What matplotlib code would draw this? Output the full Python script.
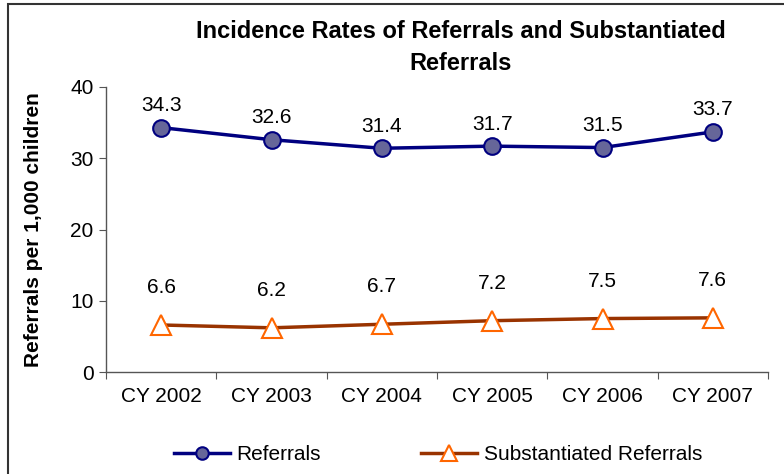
import matplotlib
matplotlib.use("Agg")
import matplotlib.pyplot as plt
from matplotlib.patches import Rectangle

plt.rcParams['font.family'] = ['Liberation Sans', 'DejaVu Sans']

years = ["CY 2002", "CY 2003", "CY 2004", "CY 2005", "CY 2006", "CY 2007"]
referrals = [34.3, 32.6, 31.4, 31.7, 31.5, 33.7]
substantiated = [6.6, 6.2, 6.7, 7.2, 7.5, 7.6]
title = "Incidence Rates of Referrals and Substantiated\nReferrals"
ylabel = "Referrals per 1,000 children"

W, H = 784, 474
FS = 15
fig = plt.figure(figsize=(W / 100, H / 100), dpi=100)
ax = fig.add_axes([106 / W, 1 - 372 / H, (768 - 106) / W, (372 - 87) / H])

x = list(range(len(years)))
ax.plot(x, referrals, color="#000080", lw=2.5, marker="o", ms=12,
        mfc="#666699", mec="#000080", mew=1.5, label="Referrals", zorder=3)
ax.plot(x, substantiated, color="#993300", lw=2.5, marker="^", ms=15,
        mfc="white", mec="#FF6600", mew=1.5, label="Substantiated Referrals",
        zorder=3, clip_on=False)

for xi, v in zip(x, referrals):
    ax.annotate(f"{v:.1f}", (xi, v), xytext=(0, 9), textcoords="offset points",
                ha="center", va="bottom", fontsize=FS)
for xi, v in zip(x, substantiated):
    ax.annotate(f"{v:.1f}", (xi, v), xytext=(0, 20), textcoords="offset points",
                ha="center", va="bottom", fontsize=FS)

ax.set_xlim(-0.5, len(years) - 0.5)
ax.set_ylim(0, 40)
ax.set_yticks([0, 10, 20, 30, 40])
ax.set_xticks([i - 0.5 for i in range(len(years) + 1)], minor=False)
ax.set_xticklabels([])
ax.set_xticks(x, minor=True)
ax.set_xticklabels(years, minor=True, fontsize=FS)
ax.tick_params(axis="x", which="minor", length=0, pad=11)
ax.tick_params(axis="x", which="major", length=5, direction="out", color="#555555")
ax.tick_params(axis="y", length=5, direction="out", color="#555555", labelsize=FS, pad=4)
for s in ["top", "right"]:
    ax.spines[s].set_visible(False)
for s in ["left", "bottom"]:
    ax.spines[s].set_color("#555555")
    ax.spines[s].set_linewidth(1)

ax.set_ylabel(ylabel, fontsize=FS, fontweight="bold")
ax.yaxis.set_label_coords(-(106 - 43) / (768 - 106), 0.5)

fig.text(461 / W, 1 - 47 / H, title, ha="center", va="center", fontsize=17,
         fontweight="bold", linespacing=1.5)

leg = fig.legend(handles=ax.get_lines(), loc="center", bbox_to_anchor=(438 / W, 1 - 455 / H),
                 ncol=2, frameon=False, fontsize=FS, handlelength=2.7, columnspacing=4.8,
                 handletextpad=0.3, markerscale=0.75)

fig.patches.append(Rectangle((8 / W, -0.1), 1.1, 1 - 4 / H + 0.1, transform=fig.transFigure,
                             fill=False, edgecolor="#333333", lw=1.5))

fig.savefig("out.png", dpi=100)
